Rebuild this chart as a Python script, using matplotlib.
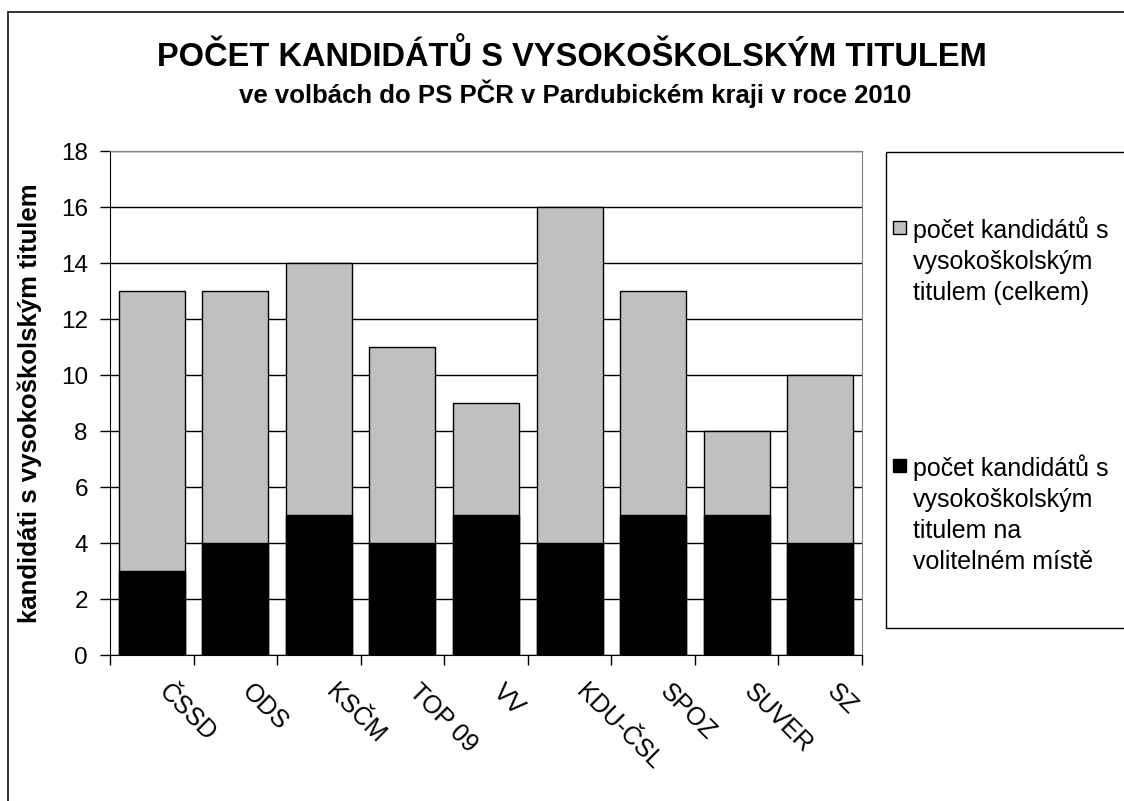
import numpy as np
import matplotlib
matplotlib.use('Agg')
import matplotlib.pyplot as plt
from matplotlib.patches import Rectangle

plt.rcParams['font.family'] = ['Liberation Sans', 'DejaVu Sans']

# Data
parties = ['ČSSD', 'ODS', 'KSČM', 'TOP 09', 'VV', 'KDU-ČSL', 'SPOZ', 'SUVER', 'SZ']
total_vs = [13, 13, 14, 11, 9, 16, 13, 8, 10]
electable_vs = [3, 4, 5, 4, 5, 4, 5, 5, 4]
legend_labels = ['počet kandidátů s\nvysokoškolským\ntitulem (celkem)',
                 'počet kandidátů s\nvysokoškolským\ntitulem na\nvolitelném místě']
yticks = np.arange(0, 19, 2)

W, H = 1124, 801
fig = plt.figure(figsize=(W / 100, H / 100), dpi=100)

# outer chart border (runs off the right/bottom edge)
fig.patches.append(Rectangle((8 / W, -0.1), 1.2, 1 - 12 / H + 0.1, transform=fig.transFigure,
                             fill=False, edgecolor='#222222', linewidth=1.3))

ax = fig.add_axes([110 / W, 1 - 655 / H, (862 - 110) / W, (655 - 151) / H])

x = np.arange(len(parties))
bars_total = ax.bar(x, total_vs, width=0.79, color='#c0c0c0', edgecolor='black', linewidth=1, zorder=2)
bars_elect = ax.bar(x, electable_vs, width=0.79, color='black', edgecolor='black', linewidth=1, zorder=3)

ax.set_xlim(-0.5, len(parties) - 0.5)
ax.set_ylim(0, 18)
ax.set_yticks(yticks)
ax.yaxis.grid(True, color='black', linewidth=1)
ax.set_axisbelow(True)

for side in ['top', 'right']:
    ax.spines[side].set_color('#808080')
for side in ['left', 'bottom']:
    ax.spines[side].set_color('black')

ax.set_xticks(np.arange(-0.5, len(parties), 1))
ax.set_xticklabels([])
ax.tick_params(axis='x', direction='out', length=7, width=1)
ax.tick_params(axis='y', direction='out', length=7, width=1, pad=9, labelsize=17.5)

for i, name in enumerate(parties):
    ax.text(i + 0.13, -0.065, name, transform=ax.get_xaxis_transform(), rotation=-45,
            rotation_mode='anchor', ha='left', va='center', fontsize=18)

ax.set_ylabel('kandidáti s vysokoškolským titulem', fontsize=18.5, fontweight='bold')
ax.yaxis.set_label_coords(-0.09, 0.5)

fig.text(572 / W, 1 - 56 / H, 'POČET KANDIDÁTŮ S VYSOKOŠKOLSKÝM TITULEM',
         ha='center', va='center', fontsize=23.5, fontweight='bold')
fig.text(575 / W, 1 - 94 / H, 've volbách do PS PČR v Pardubickém kraji v roce 2010',
         ha='center', va='center', fontsize=18.5, fontweight='bold')

# legend box, cut off by the right edge like in the original
fig.patches.append(Rectangle((886 / W, 1 - 628 / H), 0.3, (628 - 152) / H, transform=fig.transFigure,
                             fill=False, edgecolor='black', linewidth=1))
legend_colors = ['#c0c0c0', 'black']
legend_y = [228, 466]
for lbl, col, yy in zip(legend_labels, legend_colors, legend_y):
    fig.patches.append(Rectangle((893 / W, 1 - (yy + 6) / H), 13 / W, 13 / H, transform=fig.transFigure,
                                 facecolor=col, edgecolor='black', linewidth=1))
    fig.text(913 / W, 1 - (yy - 12) / H, lbl, ha='left', va='top', fontsize=18, linespacing=1.38)

fig.savefig('out.png', dpi=100)
